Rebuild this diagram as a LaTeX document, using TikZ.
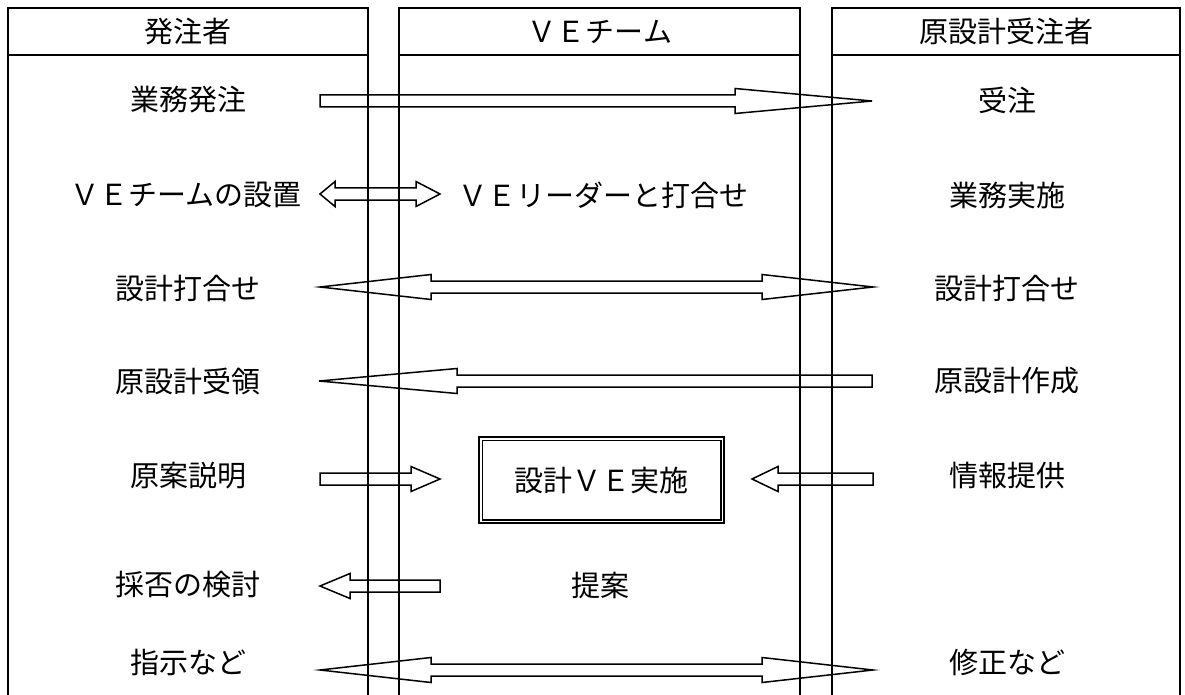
\documentclass[tikz,border=0pt]{standalone}
\usepackage{fontspec}
\setmainfont{Noto Sans CJK JP}
\usetikzlibrary{calc}
\tikzset{
  lbl/.style={font=\fontsize{29}{32}\selectfont, inner sep=0pt, anchor=center},
  frame/.style={line width=2pt, line cap=rect},
  blk/.style={draw, line width=1.5pt, line join=miter},
}
\def\sw{6}
\def\hw{12.5}
% single block arrow from tail #1 to tip #2, head length #3
\newcommand{\blockS}[3]{%
  \path[blk] let \p1=(#1), \p2=(#2), \n1={sign(\x2-\x1)} in
    (\x1,\y1+\sw) -- (\x2-\n1*#3,\y1+\sw) -- (\x2-\n1*#3,\y1+\hw) -- (\x2,\y1)
    -- (\x2-\n1*#3,\y1-\hw) -- (\x2-\n1*#3,\y1-\sw) -- (\x1,\y1-\sw) -- cycle;}
% double block arrow from left tip #1 to right tip #2, head lengths #3 (left) #4 (right)
\newcommand{\blockD}[4]{%
  \path[blk] let \p1=(#1), \p2=(#2) in
    (\x1,\y1) -- (\x1+#3,\y1+\hw) -- (\x1+#3,\y1+\sw) -- (\x2-#4,\y1+\sw)
    -- (\x2-#4,\y1+\hw) -- (\x2,\y1) -- (\x2-#4,\y1-\hw) -- (\x2-#4,\y1-\sw)
    -- (\x1+#3,\y1-\sw) -- (\x1+#3,\y1-\hw) -- cycle;}
\begin{document}
\begin{tikzpicture}[x=1pt,y=-1pt]
\useasboundingbox (0,0) rectangle (1185,695);
\clip (0,0) rectangle (1185,695);
% column frames
\draw[frame] (8,700) -- (8,8) -- (368,8) -- (368,700);
\draw[frame] (8,55) -- (368,55);
\draw[frame] (399,700) -- (399,8) -- (800,8) -- (800,700);
\draw[frame] (399,55) -- (800,55);
\draw[frame] (832,700) -- (832,8) -- (1180,8) -- (1180,700);
\draw[frame] (832,55) -- (1180,55);
% headers
\node[lbl] (h1) at (188,31.5) {発注者};
\node[lbl] (h2) at (600,31.5) {ＶＥチーム};
\node[lbl] (h3) at (1006,31.5) {原設計受注者};
% left column
\node[lbl] (l1) at (188,100) {業務発注};
\node[lbl] (l2) at (186,195) {ＶＥチームの設置};
\node[lbl] (l3) at (188,288) {設計打合せ};
\node[lbl] (l4) at (188,381) {原設計受領};
\node[lbl] (l5) at (188,476) {原案説明};
\node[lbl] (l6) at (188,585) {採否の検討};
\node[lbl] (l7) at (188,662) {指示など};
% middle column
\node[lbl] (m2) at (603,195) {ＶＥリーダーと打合せ};
\node[lbl, draw, line width=2.5pt, minimum width=245pt, minimum height=86pt] (m5) at (601.5,480) {設計ＶＥ実施};
\draw[line width=1.5pt] ($(m5.north west)+(4.5,4.5)$) rectangle ($(m5.south east)+(-4.5,-4.5)$);
\node[lbl] (m6) at (600,585) {提案};
% right column
\node[lbl] (r1) at (1007,100) {受注};
\node[lbl] (r2) at (1007,195) {業務実施};
\node[lbl] (r3) at (1007,288) {設計打合せ};
\node[lbl] (r4) at (1007,381) {原設計作成};
\node[lbl] (r5) at (1007,476) {情報提供};
\node[lbl] (r7) at (1007,662) {修正など};
% arrow end points
\coordinate (a1t) at (320,101);  \coordinate (a1h) at (872,101);
\coordinate (a2l) at (320,194);  \coordinate (a2r) at (440,194);
\coordinate (a3l) at (320,287);  \coordinate (a3r) at (873,287);
\coordinate (a4t) at (872,381);  \coordinate (a4h) at (319,381);
\coordinate (a5t) at (320,479);  \coordinate (a5h) at (440,479);
\coordinate (a6t) at (873,479);  \coordinate (a6h) at (752,479);
\coordinate (a7t) at (440,586);  \coordinate (a7h) at (320,586);
\coordinate (a8l) at (320,670);  \coordinate (a8r) at (873,670);
% arrows
\blockS{a1t}{a1h}{137}
\blockD{a2l}{a2r}{15}{24}
\blockD{a3l}{a3r}{111}{111}
\blockS{a4t}{a4h}{138}
\blockS{a5t}{a5h}{29}
\blockS{a6t}{a6h}{26}
\blockS{a7t}{a7h}{30}
\blockD{a8l}{a8r}{111}{111}
\end{tikzpicture}
\end{document}
